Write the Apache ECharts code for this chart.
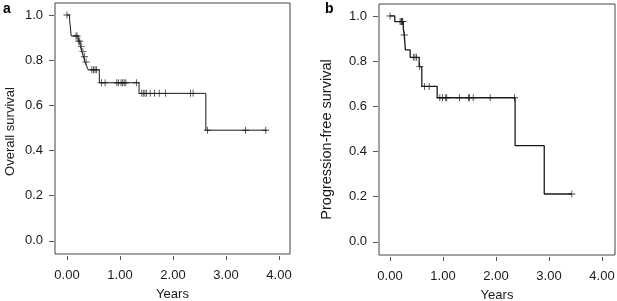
<!DOCTYPE html>
<html>
<head>
<meta charset="utf-8">
<script src="https://cdn.jsdelivr.net/npm/echarts@6/dist/echarts.min.js"></script>
<style>
html,body{margin:0;padding:0;background:#fff;}
#chart{width:617px;height:301px;}
</style>
</head>
<body>
<div id="chart"></div>
<script>
// 面板a: 总生存 (步进时间点 / 生存率)
var aStepT = [0, 0.05, 0.08, 0.21, 0.25, 0.28, 0.31, 0.34, 0.37, 0.40, 0.61, 1.36, 2.62];
var aStepS = [1.0, 0.977, 0.907, 0.884, 0.861, 0.838, 0.815, 0.792, 0.775, 0.757, 0.70, 0.653, 0.49];
var aEnd = 3.77;
var aCensor = [0.0, 0.17, 0.19, 0.22, 0.24, 0.27, 0.30, 0.33, 0.36, 0.47, 0.50, 0.53, 0.56, 0.65, 0.72, 0.94, 0.97, 1.02, 1.05, 1.08, 1.11, 1.31, 1.41, 1.44, 1.47, 1.50, 1.57, 1.65, 1.74, 1.86, 2.33, 2.38, 2.65, 3.37, 3.75];

// 面板b: 无进展生存
var bStepT = [0, 0.09, 0.25, 0.27, 0.28, 0.29, 0.38, 0.55, 0.60, 0.89, 2.36, 2.91];
var bStepS = [1.0, 0.975, 0.945, 0.916, 0.88, 0.85, 0.817, 0.776, 0.688, 0.638, 0.426, 0.212];
var bEnd = 3.43;
var bCensor = [0.0, 0.19, 0.21, 0.22, 0.23, 0.24, 0.27, 0.44, 0.47, 0.50, 0.56, 0.65, 0.74, 0.94, 0.99, 1.05, 1.07, 1.31, 1.48, 1.50, 1.57, 1.89, 2.35, 3.43];

var xTicks = [0, 1, 2, 3, 4];
var yTicks = [0, 0.2, 0.4, 0.6, 0.8, 1.0];

var FONT = '"Liberation Sans", Arial, sans-serif';
var INK = '#1a1a1a';
var PLUS = 'path://M-0.5,-4H0.5V-0.5H4V0.5H0.5V4H-0.5V0.5H-4V-0.5H-0.5Z';

/**
 * 步进曲线的点
 */
function stepData(ts, ss, end) {
	var d = [];
	for (var i = 0; i < ts.length; i++) {
		d.push([ts[i], ss[i]]);
	}
	d.push([end, ss[ss.length - 1]]);
	return d;
}

/**
 * 删失点: 取该时间点的生存率
 */
function censorData(cs, ts, ss) {
	var d = [];
	for (var i = 0; i < cs.length; i++) {
		var s = ss[0];
		for (var j = 0; j < ts.length; j++) {
			if (ts[j] <= cs[i]) s = ss[j];
		}
		d.push([cs[i], s]);
	}
	return d;
}

function xAxisOf(idx, min, max) {
	return {
		type: 'value', gridIndex: idx, min: min, max: max,
		offset: 2,
		name: 'Years', nameLocation: 'middle', nameGap: 32,
		nameTextStyle: {fontFamily: FONT, fontSize: 13, color: INK},
		axisLine: {show: false, onZero: false},
		axisTick: {show: true, length: 4, customValues: xTicks, lineStyle: {color: '#555'}},
		axisLabel: {customValues: xTicks, margin: 13, fontFamily: FONT, fontSize: 13, color: INK,
			formatter: function (v) { return v.toFixed(2); }},
		splitLine: {show: false}
	};
}

function yAxisOf(idx, name, gap, size, pad) {
	return {
		type: 'value', gridIndex: idx, min: -0.058, max: 1.053,
		offset: 1,
		name: name, nameLocation: 'middle', nameGap: gap,
		nameTextStyle: {fontFamily: FONT, fontSize: size, color: INK, padding: pad},
		axisLine: {show: false, onZero: false},
		axisTick: {show: true, length: 5, customValues: yTicks, lineStyle: {color: '#555'}},
		axisLabel: {customValues: yTicks, margin: 11, fontFamily: FONT, fontSize: 13, color: INK,
			formatter: function (v) { return v.toFixed(1); }},
		splitLine: {show: false}
	};
}

function lineOf(idx, data, w) {
	return {
		type: 'line', xAxisIndex: idx, yAxisIndex: idx, step: 'end',
		data: data, symbol: 'none', silent: true,
		lineStyle: {color: INK, width: w}
	};
}

function censorOf(idx, data) {
	return {
		type: 'scatter', xAxisIndex: idx, yAxisIndex: idx,
		data: data, symbol: PLUS, symbolSize: 7, silent: true,
		itemStyle: {color: INK}
	};
}

var chart = echarts.init(document.getElementById('chart'));
chart.setOption({
	animation: false,
	backgroundColor: '#fff',
	title: [
		{text: 'a', left: 3, top: 2, padding: 0, textStyle: {fontFamily: FONT, fontSize: 14, fontWeight: 'bold', color: '#000'}},
		{text: 'b', left: 325, top: 2, padding: 0, textStyle: {fontFamily: FONT, fontSize: 14, fontWeight: 'bold', color: '#000'}}
	],
	grid: [
		{left: 55, width: 235, top: 3, height: 251, show: true, borderColor: '#444', borderWidth: 1, containLabel: false, outerBoundsMode: 'none'},
		{left: 379, width: 236, top: 4, height: 251, show: true, borderColor: '#444', borderWidth: 1, containLabel: false, outerBoundsMode: 'none'}
	],
	xAxis: [xAxisOf(0, -0.226, 4.208), xAxisOf(1, -0.208, 4.245)],
	yAxis: [
		yAxisOf(0, 'Overall survival', 37, 13, [0, 6, 0, 0]),
		yAxisOf(1, 'Progression-free survival', 44, 14.5, [0, 20, 0, 0])
	],
	series: [
		lineOf(0, stepData(aStepT, aStepS, aEnd), 1),
		censorOf(0, censorData(aCensor, aStepT, aStepS)),
		lineOf(1, stepData(bStepT, bStepS, bEnd), 1.3),
		censorOf(1, censorData(bCensor, bStepT, bStepS))
	]
});
</script>
</body>
</html>
